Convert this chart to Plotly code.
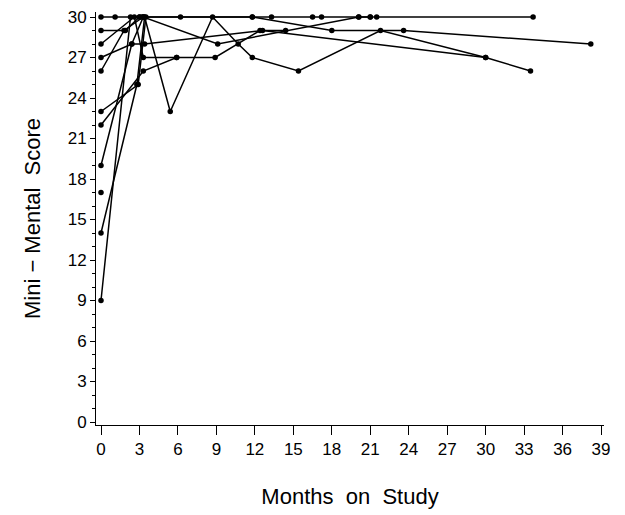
import plotly.graph_objects as go

# Months on study and Mini-Mental scores for each patient
p1_months = [0, 1.1, 3.0, 6.2, 11.8, 13.3, 16.5, 17.2, 20.1, 21.0, 21.5, 33.7]
p1_scores = [30, 30, 30, 30, 30, 30, 30, 30, 30, 30, 30, 30]

p2_months = [0, 2.3, 3.2]
p2_scores = [9, 30, 30]

p3_months = [0, 2.8, 3.4, 5.4, 8.7, 10.7, 11.8, 15.4, 21.8, 30.0, 33.5]
p3_scores = [14, 25, 30, 23, 30, 28, 27, 26, 29, 27, 26]

p4_months = [0]
p4_scores = [17]

p5_months = [0, 2.4, 3.3]
p5_scores = [19, 28, 30]

p6_months = [0, 3.3, 5.9, 8.9, 12.4, 14.4]
p6_scores = [22, 26, 27, 27, 29, 29]

p7_months = [0, 2.9, 3.5]
p7_scores = [23, 25, 30]

p8_months = [0, 1.8, 3.3, 9.1, 20.1, 21.0]
p8_scores = [26, 29, 30, 28, 30, 30]

p9_months = [0, 2.4, 3.4, 12.6, 30.0]
p9_scores = [27, 28, 28, 29, 27]

p10_months = [0, 1.9, 3.0, 11.8, 18.0, 23.6, 38.2]
p10_scores = [29, 29, 30, 30, 29, 29, 28]

p11_months = [0, 2.6, 3.3, 5.9]
p11_scores = [28, 30, 27, 27]

patients = [
    (p1_months, p1_scores), (p2_months, p2_scores), (p3_months, p3_scores),
    (p4_months, p4_scores), (p5_months, p5_scores), (p6_months, p6_scores),
    (p7_months, p7_scores), (p8_months, p8_scores), (p9_months, p9_scores),
    (p10_months, p10_scores), (p11_months, p11_scores),
]

x_ticks = list(range(0, 40, 3))
y_ticks = list(range(0, 31, 3))

fig = go.Figure()
for mx, sc in patients:
    fig.add_trace(go.Scatter(
        x=mx, y=sc, mode="lines+markers",
        line=dict(color="black", width=1.5),
        marker=dict(color="black", size=5.5),
        showlegend=False, cliponaxis=False,
    ))

font_family = "Liberation Sans, Arial, Helvetica, sans-serif"
fig.update_layout(
    width=617, height=507,
    margin=dict(l=88, r=21, t=4, b=90, autoexpand=False),
    paper_bgcolor="white", plot_bgcolor="white",
    font=dict(family=font_family, color="black", size=17),
    xaxis=dict(
        range=[-0.39, 39.23], tickvals=x_ticks, ticktext=[str(v) for v in x_ticks],
        showgrid=False, zeroline=False, showline=True, linecolor="black", linewidth=1,
        ticks="outside", ticklen=9, tickcolor="black", automargin=False,
        ticklabeloverflow="allow",
        title=dict(text="Months  on  Study", font=dict(size=22), standoff=30),
        tickfont=dict(size=17),
    ),
    yaxis=dict(
        range=[-0.22, 30.37], tickvals=y_ticks, ticktext=[str(v) for v in y_ticks],
        showgrid=False, zeroline=False, showline=True, linecolor="black", linewidth=1,
        ticks="outside", ticklen=5, tickcolor="black", automargin=False,
        ticklabeloverflow="allow",
        minor=dict(dtick=1, ticks="outside", ticklen=3, tickcolor="black", showgrid=False),
        title=dict(text="Mini − Mental  Score", font=dict(size=22), standoff=20),
        tickfont=dict(size=17),
    ),
)

fig.write_html("out.html")
